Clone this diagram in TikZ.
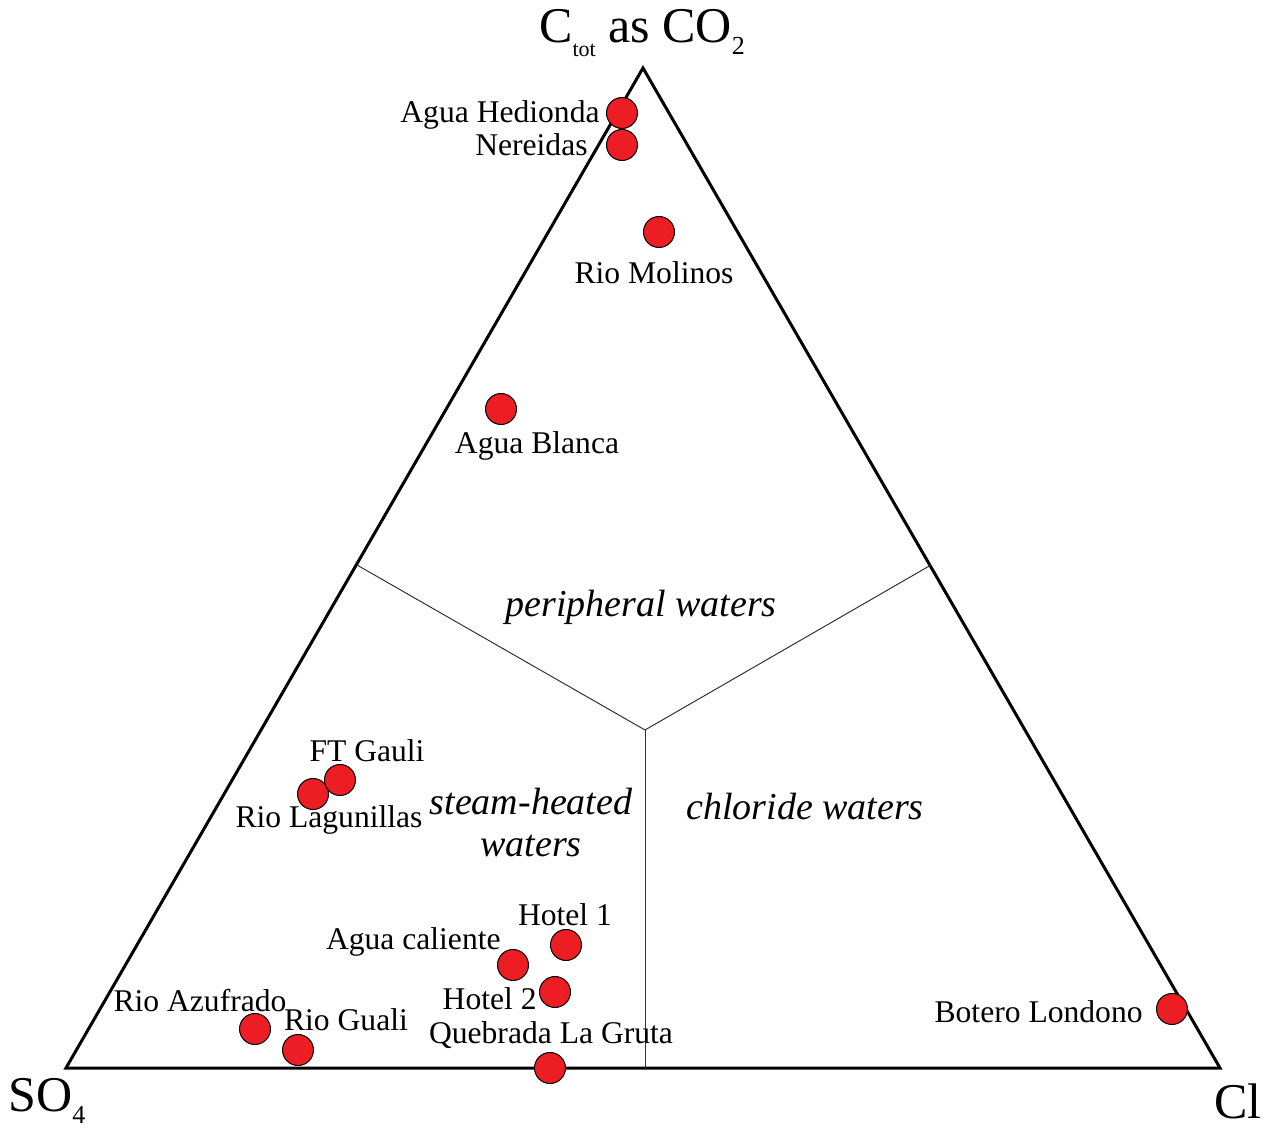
\documentclass[tikz,border=0pt]{standalone}
\usepackage{fontspec}
\setmainfont{Liberation Serif}
\tikzset{
  sample/.style={circle,draw=black,line width=0.5pt,fill=ptred,minimum size=15.5pt,inner sep=0pt},
  lbl/.style={font=\fontsize{15.8}{18}\selectfont,inner sep=0pt},
  field/.style={font=\fontsize{19}{23}\selectfont\itshape,inner sep=0pt},
  apex/.style={font=\fontsize{25}{30}\selectfont,inner sep=0pt}
}
\definecolor{ptred}{RGB}{237,29,36}
\begin{document}
\begin{tikzpicture}[x=0.5pt,y=-0.5pt,line cap=round,line join=round]
\useasboundingbox (0,0) rectangle (1271,1128);

% triangle corners
\coordinate (T) at (643,68);
\coordinate (L) at (66,1068);
\coordinate (R) at (1220,1068);
\draw[line width=1.5pt,line join=miter] (T) -- (L) -- (R) -- cycle;

% field boundaries
\coordinate (M) at (645,730);
\coordinate (Ml) at (357,565);
\coordinate (Mr) at (931,565);
\coordinate (Mb) at (645,1068);
\draw[line width=0.5pt,black!80] (Ml) -- (M) -- (Mr);
\draw[line width=0.5pt,black!80] (M) -- (Mb);

% corner labels
\node[apex] (co2) at (642,33) {C\raisebox{-0.6ex}{\fontsize{11}{13}\selectfont tot} as CO\raisebox{-0.5ex}{\fontsize{13}{15}\selectfont 2}};
\node[apex] (so4) at (47,1101) {SO\raisebox{-0.5ex}{\fontsize{13}{15}\selectfont 4}};
\node[apex] (cl) at (1238,1101) {Cl};

% field names
\node[field] (peri) at (641,607) {peripheral waters};
\node[field,align=center] (steam) at (531,823) {steam-heated\\[-2pt]waters};
\node[field] (chlo) at (805,807) {chloride waters};

% samples
\node[sample] (hed) at (622,113) {};
\node[lbl,anchor=east] (hedl) at (600,115) {Agua Hedionda};
\node[sample] (ner) at (622,145) {};
\node[lbl,anchor=east] (nerl) at (588,145) {Nereidas};
\node[sample] (mol) at (659,232) {};
\node[lbl] (moll) at (654,273) {Rio Molinos};
\node[sample] (bla) at (501,409) {};
\node[lbl] (blal) at (537,446) {Agua Blanca};
\node[sample] (lag) at (313,794) {};
\node[lbl] (lagl) at (329,820) {Rio Lagunillas};
\node[sample] (ftg) at (340,780) {};
\node[lbl] (ftgl) at (367,751) {FT Gauli};
\node[sample] (ho1) at (566,945) {};
\node[lbl] (ho1l) at (565,915) {Hotel 1};
\node[sample] (cal) at (513,965) {};
\node[lbl,anchor=east] (call) at (501,942) {Agua caliente};
\node[sample] (ho2) at (555,992) {};
\node[lbl,anchor=east] (ho2l) at (537,999) {Hotel 2};
\node[sample] (azu) at (255,1029) {};
\node[lbl] (azul) at (200,1001) {Rio Azufrado};
\node[sample] (gua) at (298,1050) {};
\node[lbl] (gual) at (346,1020) {Rio Guali};
\node[sample] (gru) at (550,1068) {};
\node[lbl] (grul) at (551,1035) {Quebrada La Gruta};
\node[sample] (bot) at (1172,1009) {};
\node[lbl,anchor=east] (botl) at (1143,1012) {Botero Londono};

\end{tikzpicture}
\end{document}
